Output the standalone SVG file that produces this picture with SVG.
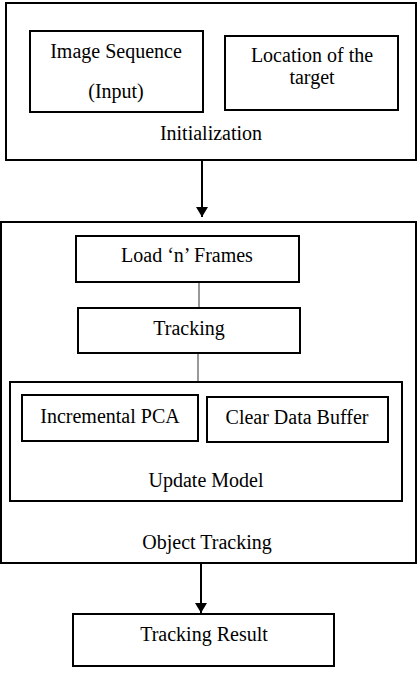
<svg xmlns="http://www.w3.org/2000/svg" width="420" height="676" viewBox="0 0 420 676">
<style>
rect{fill:#fff;stroke:#000;stroke-width:2}
text{font-family:'Liberation Serif','DejaVu Serif',serif;font-size:20px;fill:#000;text-anchor:middle}
.ln{stroke:#333;stroke-width:1;fill:none}
.ar{stroke:#000;stroke-width:2;fill:none}
</style>
<defs>
<marker id="ah" markerWidth="10" markerHeight="12" refX="10" refY="6" orient="auto" markerUnits="userSpaceOnUse">
<path d="M0,0 L10,6 L0,12 z" fill="#000"/>
</marker>
</defs>
<rect width="420" height="676" style="fill:#fff;stroke:none"/>
<g id="initialization">
<rect x="6" y="3" width="410" height="157"/>
<text x="211" y="140">Initialization</text>
</g>
<g id="image-sequence">
<rect x="30" y="31" width="173" height="81"/>
<text x="116" y="58">Image Sequence</text>
<text x="116" y="98">(Input)</text>
</g>
<g id="location">
<rect x="225" y="36" width="173" height="74"/>
<text x="312" y="62">Location of the</text>
<text x="312" y="84">target</text>
</g>
<g id="object-tracking">
<rect x="1" y="222" width="415" height="341"/>
<text x="207" y="549">Object Tracking</text>
</g>
<g id="load-frames">
<rect x="76" y="236" width="223" height="46"/>
<text x="187" y="262">Load ‘n’ Frames</text>
</g>
<g id="tracking">
<rect x="78" y="308" width="222" height="45"/>
<text x="189" y="335">Tracking</text>
</g>
<g id="update-model">
<rect x="10" y="382" width="392" height="119"/>
<text x="206" y="487">Update Model</text>
</g>
<g id="incremental-pca">
<rect x="22" y="395" width="176" height="46"/>
<text x="110" y="423">Incremental PCA</text>
</g>
<g id="clear-buffer">
<rect x="207" y="397" width="181" height="45"/>
<text x="297" y="424">Clear Data Buffer</text>
</g>
<g id="tracking-result">
<rect x="73" y="614" width="261" height="52"/>
<text x="204" y="641">Tracking Result</text>
</g>
<g id="connectors">
<line class="ar" x1="202" y1="161" x2="202" y2="217" marker-end="url(#ah)"/>
<line class="ln" x1="199" y1="283" x2="199" y2="307"/>
<line class="ln" x1="198" y1="354" x2="198" y2="381"/>
<line class="ar" x1="201" y1="564" x2="201" y2="613" marker-end="url(#ah)"/>
</g>
</svg>
